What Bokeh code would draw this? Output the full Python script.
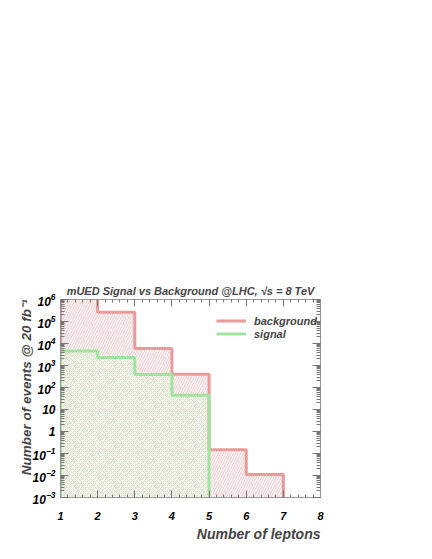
from bokeh.plotting import figure
from bokeh.models import (Range1d, FixedTicker, LinearAxis, LogAxis, Title, Legend, LegendItem)
from bokeh.embed import file_html
from bokeh.resources import INLINE

# ---- data ----
bin_edges = [1, 2, 3, 4, 5, 6, 7]
background = [3.0e6, 2.6e5, 6.0e3, 4.0e2, 0.15, 0.011]
signal_edges = [1, 2, 3, 4, 5]
signal = [4.6e3, 2.3e3, 3.9e2, 45.0]
x_ticks = [1, 2, 3, 4, 5, 6, 7, 8]
y_exponents = [-3, -2, -1, 0, 1, 2, 3, 4, 5, 6]
plain_y_labels = {1.0: "1", 10.0: "10"}

YMIN, YMAX = 1e-3, 1e6
BG_COL = "#e99a9a"
SG_COL = "#9ee39e"
FONT = "Liberation Sans"

p = figure(width=416, height=543, x_range=Range1d(1, 8), y_range=Range1d(YMIN, YMAX),
           y_axis_type="log", output_backend="svg", toolbar_location=None,
           min_border_left=60, min_border_right=96, min_border_top=299, min_border_bottom=46)
p.xgrid.visible = False
p.ygrid.visible = False
p.outline_line_color = "#999999"
p.background_fill_color = "white"
p.border_fill_color = "white"

def outline(edges, vals):
    xs, ys = [edges[0]], [YMIN]
    for i, v in enumerate(vals):
        xs += [edges[i], edges[i + 1]]
        ys += [v, v]
    xs.append(edges[-1]); ys.append(YMIN)
    return xs, ys

# background fill
p.quad(left=bin_edges[:-1], right=bin_edges[1:], top=background, bottom=YMIN,
       fill_color=None, line_color=None, hatch_pattern="/", hatch_color="#f2c0c0",
       hatch_scale=5, hatch_weight=1)
# signal fill
p.quad(left=signal_edges[:-1], right=signal_edges[1:], top=signal, bottom=YMIN,
       fill_color="white", fill_alpha=0.4, line_color=None, hatch_pattern="x", hatch_color="#d2ecca",
       hatch_scale=4, hatch_weight=1)

bx, by = outline(bin_edges, background)
sx, sy = outline(signal_edges, signal)
r_bg = p.line(bx, by, line_color=BG_COL, line_width=3)
r_sg = p.line(sx, sy, line_color=SG_COL, line_width=3)

# axes
minor_x = [x_ticks[0] + 0.2 * k for k in range(0, 36)]
minor_y = [m * 10 ** e for e in y_exponents[:-1] for m in range(1, 10)]
xt = FixedTicker(ticks=x_ticks, minor_ticks=minor_x)
yt = FixedTicker(ticks=[10.0 ** e for e in y_exponents], minor_ticks=minor_y)

def style(ax, show_labels=False):
    ax.axis_line_color = "#999999"
    ax.major_tick_line_color = "#777777"
    ax.minor_tick_line_color = "#777777"
    ax.major_tick_out = 0
    ax.minor_tick_out = 0
    if show_labels:
        ax.major_label_text_font = FONT
        ax.major_label_text_font_style = "bold italic"
        ax.major_label_text_color = "black"
    else:
        ax.major_label_text_font_size = "0px"
        ax.major_label_text_color = None
        ax.major_label_standoff = 0

p.xaxis.ticker = xt
p.yaxis.ticker = yt
style(p.xaxis[0], True); style(p.yaxis[0], True)
p.xaxis.major_label_text_font_size = "11px"
p.xaxis.major_label_standoff = 14
p.yaxis.major_label_text_font_size = "12px"
p.yaxis.major_label_standoff = 5
p.yaxis.major_label_overrides = plain_y_labels
p.xaxis.major_tick_in = 7; p.xaxis.minor_tick_in = 3
p.yaxis.major_tick_in = 8; p.yaxis.minor_tick_in = 4

top_ax = LinearAxis(ticker=xt); style(top_ax)
top_ax.major_tick_in = 7; top_ax.minor_tick_in = 3
p.add_layout(top_ax, "above")
right_ax = LogAxis(ticker=yt); style(right_ax)
right_ax.major_tick_in = 8; right_ax.minor_tick_in = 4
p.add_layout(right_ax, "right")

# title
p.title.text = "mUED Signal vs Background @LHC, \u221as = 8 TeV"
p.title.align = "center"
p.title.text_font = FONT
p.title.text_font_style = "bold italic"
p.title.text_font_size = "11px"
p.title.standoff = 6

# axis titles
p.add_layout(Title(text="Number of leptons", align="right", text_font=FONT,
                   text_font_style="bold italic", text_font_size="14px", standoff=3), "below")
p.add_layout(Title(text="Number of events @ 20 fb\u207b\u00b9", align="right", text_font=FONT,
                   text_font_style="bold italic", text_font_size="13.5px", standoff=-8), "left")

legend = Legend(items=[LegendItem(label="background", renderers=[r_bg]),
                       LegendItem(label="signal", renderers=[r_sg])],
                location=(156, 157), glyph_width=30, glyph_height=13, label_standoff=8,
                label_text_font=FONT, label_text_font_style="bold italic", label_text_font_size="11px",
                label_height=13, spacing=0, padding=0, margin=0, border_line_color=None,
                background_fill_alpha=0)
p.add_layout(legend, "center")

open("out.html", "w").write(file_html(p, INLINE))
